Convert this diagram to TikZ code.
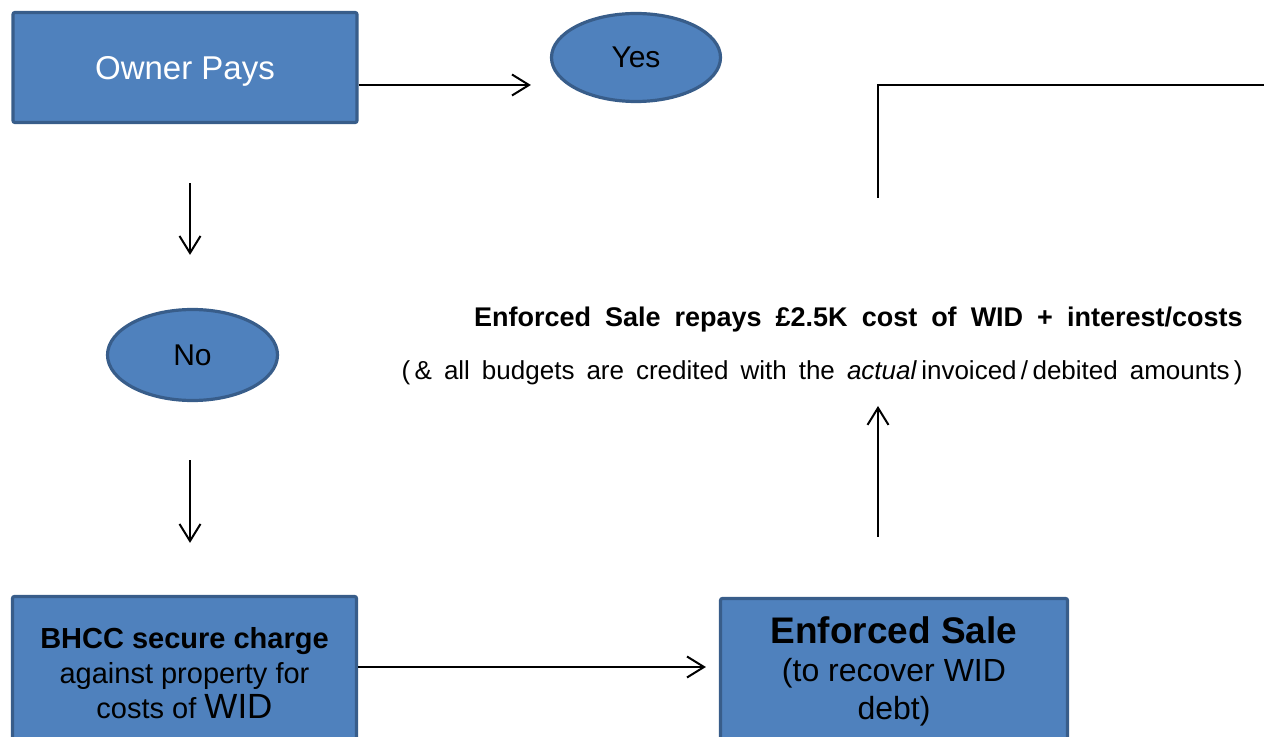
\documentclass[tikz,border=0pt]{standalone}
\usepackage{fontspec}
\setmainfont{Liberation Sans}
\usetikzlibrary{arrows.meta,shapes.geometric}
\definecolor{boxfill}{HTML}{4F81BD}
\definecolor{boxedge}{HTML}{385D8A}
\tikzset{
  bluebox/.style={draw=boxedge, fill=boxfill, line width=1.6pt, rounded corners=1pt, align=center, inner sep=0pt},
  blueoval/.style={ellipse, draw=boxedge, fill=boxfill, line width=1.6pt, inner sep=0pt},
  flow/.style={-{Straight Barb[length=8.5pt,width=10.5pt]}, line width=1pt},
  note/.style={anchor=base east, inner sep=0pt},
}
\begin{document}
\begin{tikzpicture}[x=0.5pt, y=-0.5pt]
    \useasboundingbox (0,0) rectangle (1264,737);
    \clip (0,0) rectangle (1264,737);
    % boxes and ovals
    \node[bluebox, minimum width=172pt, minimum height=55pt, text=white, text height=11.8pt, text depth=0pt, font=\fontsize{16.5}{20}\selectfont] (owner) at (185,67.5) {Owner Pays};
    \node[blueoval, minimum width=84.5pt, minimum height=44pt, font=\fontsize{15}{18}\selectfont] (yes) at (636,57.5) {Yes};
    \node[blueoval, minimum width=85pt, minimum height=45.5pt, font=\fontsize{15}{18}\selectfont] (no) at (192.5,355) {No};
    \node[bluebox, minimum width=172pt, minimum height=76.5pt, font=\fontsize{14.5}{17.5}\selectfont] (bhcc) at (184.5,673)
        {{\bfseries BHCC secure charge}\\against property for\\costs of {\fontsize{17.5}{17.5}\selectfont WID}};
    \node[bluebox, minimum width=173.5pt, minimum height=72.5pt, font=\fontsize{16}{19}\selectfont] (enforced) at (894,671)
        {{\bfseries\fontsize{18.5}{19}\selectfont Enforced Sale}\\(to recover WID\\debt)};
    % notes
    \node[note, font=\bfseries\fontsize{13.5}{15}\selectfont] (repayhead) at (1243,327)
        {\spaceskip=7pt Enforced Sale repays £2.5K cost of WID + interest/costs};
    \node[note, font=\fontsize{13}{15}\selectfont] (repaysub) at (1243,380)
        {\spaceskip=6pt (\,\& all budgets are credited with the \textit{actual}\,invoiced\,/\,debited amounts\,)};
    \coordinate (repaytip) at (878,406);
    \coordinate (loopfoot) at (878,198);
    \coordinate (loopexit) at (1270,85);
    % connectors
    \draw[flow, shorten >=9.5pt] ([yshift=-8.75pt]owner.east) -- ([yshift=-8.75pt]owner.east -| yes.west);
    \draw[flow, shorten <=29.5pt, shorten >=26.5pt] ([xshift=-1.25pt]no.north |- owner.south) -- ([xshift=-1.25pt]no.north);
    \draw[flow, shorten <=29pt, shorten >=26pt] ([xshift=-1.25pt]no.south) -- ([xshift=-1.25pt]no.south |- bhcc.north);
    \draw[flow, shorten >=6.5pt] ([yshift=3pt]bhcc.east) -- ([yshift=3pt]bhcc.east -| enforced.west);
    \draw[flow, shorten <=30pt] (enforced.north -| repaytip) -- (repaytip);
    \draw[line width=1pt] (loopfoot) |- (loopexit);
\end{tikzpicture}
\end{document}
